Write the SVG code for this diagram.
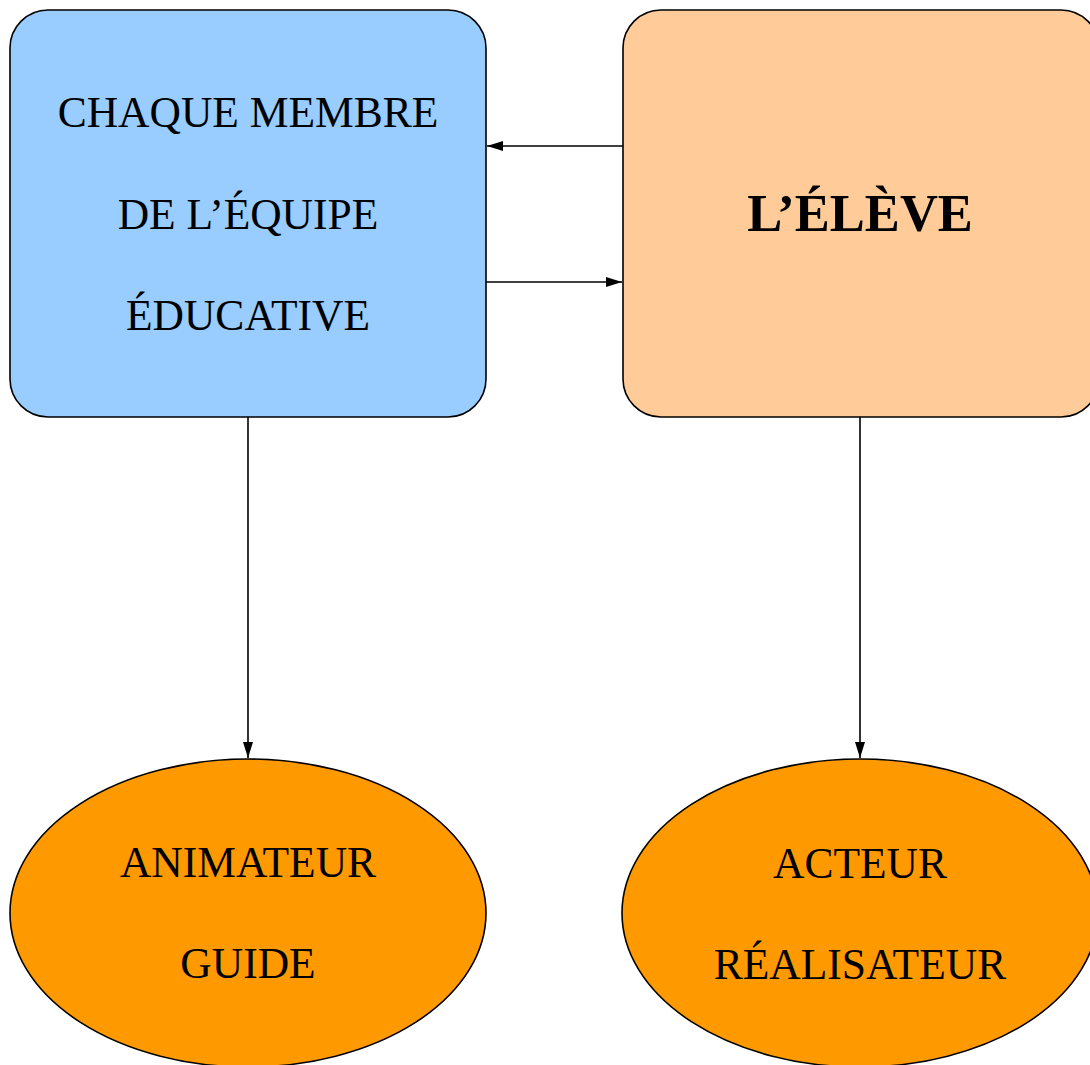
<svg xmlns="http://www.w3.org/2000/svg" width="1090" height="1065" viewBox="0 0 1090 1065">
<style>
.box{stroke:#000;stroke-width:1.6}
.t{font-family:"Liberation Serif","Times New Roman",serif;font-size:43.5px;fill:#000;text-anchor:middle}
.b{font-family:"Liberation Serif","Times New Roman",serif;font-size:52.5px;font-weight:bold;fill:#000;text-anchor:middle}
.c{stroke:#000;stroke-width:1.6;fill:none;marker-end:url(#ah)}
</style>
<defs>
<marker id="ah" markerWidth="16" markerHeight="10" refX="16" refY="5" orient="auto" markerUnits="userSpaceOnUse">
<path d="M0,0 L16,5 L0,10 Z" fill="#000"/>
</marker>
</defs>
<rect width="1090" height="1065" fill="#fff"/>
<g id="connectors">
<line class="c" x1="623" y1="146" x2="487" y2="146"/>
<line class="c" x1="486" y1="282" x2="622" y2="282"/>
<line class="c" x1="248" y1="417" x2="248" y2="758"/>
<line class="c" x1="860" y1="417" x2="860" y2="758"/>
</g>
<g id="equipe">
<rect class="box" x="10" y="10" width="476" height="407" rx="38" ry="38" fill="#99CCFF"/>
<text class="t" x="248" y="127">CHAQUE MEMBRE</text>
<text class="t" x="248" y="229">DE L’ÉQUIPE</text>
<text class="t" x="248" y="330">ÉDUCATIVE</text>
</g>
<g id="eleve">
<rect class="box" x="623" y="10" width="476" height="407" rx="38" ry="38" fill="#FFCC99"/>
<text class="b" x="860" y="231">L’ÉLÈVE</text>
</g>
<g id="animateur">
<ellipse class="box" cx="248" cy="913" rx="238" ry="154" fill="#FF9900"/>
<text class="t" x="248" y="877">ANIMATEUR</text>
<text class="t" x="248" y="978">GUIDE</text>
</g>
<g id="acteur">
<ellipse class="box" cx="860" cy="913" rx="238" ry="154" fill="#FF9900"/>
<text class="t" x="860" y="878">ACTEUR</text>
<text class="t" x="860" y="979">RÉALISATEUR</text>
</g>
</svg>
